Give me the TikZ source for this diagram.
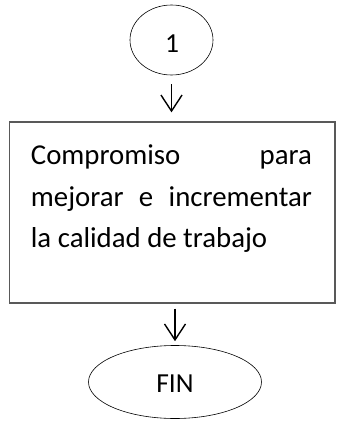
\documentclass[tikz,border=0pt]{standalone}
\usepackage{fontspec}
\setmainfont{Carlito}
\usetikzlibrary{arrows.meta,shapes.geometric}
\begin{document}
\begin{tikzpicture}[x=1pt,y=-1pt,
  term/.style={draw=black, line width=0.6pt, ellipse, inner sep=0pt},
  procbox/.style={draw=black!65, line width=1.3pt, rectangle, inner sep=0pt},
  txt/.style={inner sep=0pt, font=\fontsize{28.8}{34}\selectfont},
  lbl/.style={inner sep=0pt, font=\fontsize{27.5}{32}\selectfont},
  arr/.style={line width=1.4pt, -{Straight Barb[length=16pt,width=21pt,line width=1.4pt]}}
]
\useasboundingbox (0,0) rectangle (337,426);
\node[term, minimum width=83pt, minimum height=70pt] (c1) at (171.5,40) {};
\node[lbl, anchor=base] (one) at (172,52) {1};
\node[procbox, minimum width=325.5pt, minimum height=181pt] (box) at (172.2,212.5) {};
\node[txt, anchor=base west] (t1) at (30.7,164.5) {\makebox[281pt]{Compromiso\hfill para}};
\node[txt, anchor=base west] (t2) at (30.7,206.7) {\makebox[281pt]{mejorar\hfill e\hfill incrementar}};
\node[txt, anchor=base west] (t3) at (30.7,247.5) {la calidad de trabajo};
\node[term, minimum width=173pt, minimum height=73pt] (fin) at (175,382) {};
\node[lbl, anchor=base] (fint) at (175,392) {FIN};
\draw[arr, shorten <=9pt, shorten >=9pt] (c1.south) -- (c1.south |- box.north);
\draw[arr, shorten <=5pt, shorten >=4pt] (fin.north |- box.south) -- (fin.north);
\end{tikzpicture}
\end{document}
